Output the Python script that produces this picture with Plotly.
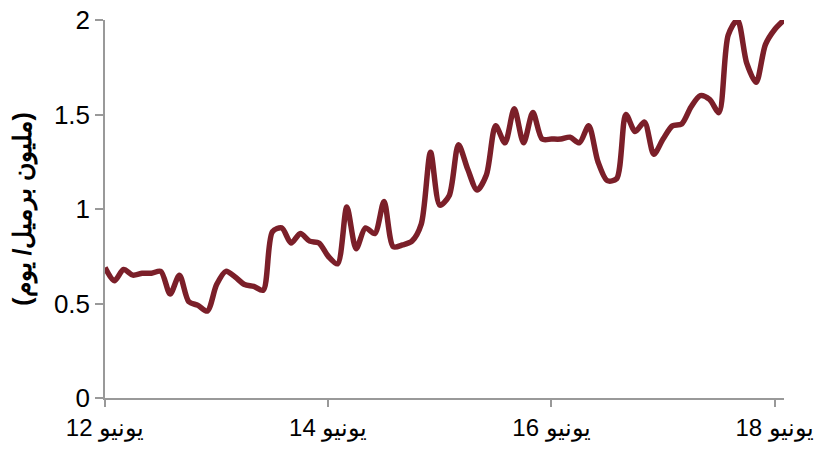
import plotly.graph_objects as go

months = list(range(74))
values = [
    0.69, 0.62, 0.68, 0.65, 0.66, 0.66, 0.67, 0.55, 0.65, 0.51,
    0.49, 0.46, 0.60, 0.67, 0.64, 0.60, 0.59, 0.57, 0.88, 0.90,
    0.82, 0.87, 0.83, 0.82, 0.75, 0.71, 1.01, 0.79, 0.90, 0.87,
    1.04, 0.80, 0.81, 0.83, 0.92, 1.30, 1.02, 1.07, 1.34, 1.21,
    1.10, 1.18, 1.44, 1.35, 1.53, 1.35, 1.51, 1.37, 1.37, 1.37,
    1.38, 1.35, 1.44, 1.25, 1.15, 1.16, 1.50, 1.41, 1.46, 1.29,
    1.37, 1.44, 1.45, 1.54, 1.60, 1.58, 1.51, 1.92, 2.00, 1.77,
    1.67, 1.87, 1.95, 2.00,
]
tick_vals = [0, 24, 48, 72]
tick_text = ["12 يونيو", "14 يونيو", "16 يونيو", "18 يونيو"]
y_title = "(مليون برميل/ يوم)"

fig = go.Figure()
fig.add_trace(go.Scatter(
    x=months, y=values, mode="lines",
    line=dict(color="#7b1f29", width=5.5, shape="spline", smoothing=0.8),
    hoverinfo="skip", showlegend=False,
))

fig.update_layout(
    width=822, height=450,
    margin=dict(l=105, r=38, t=20, b=52),
    paper_bgcolor="white", plot_bgcolor="white",
    font=dict(family="Liberation Sans, Arial, sans-serif", size=24, color="#000000"),
    xaxis=dict(
        range=[0, 73], tickvals=tick_vals, ticktext=tick_text, automargin=False,
        showgrid=False, zeroline=False, showline=True, linecolor="#999999", linewidth=1.5,
        ticks="outside", ticklen=7, tickcolor="#999999", tickwidth=1.5,
        tickfont=dict(size=24),
    ),
    yaxis=dict(
        range=[0, 2], tickvals=[0, 0.5, 1, 1.5, 2], ticktext=["0", "0.5", "1", "1.5", "2"],
        automargin=False,
        showgrid=False, zeroline=False, showline=True, linecolor="#999999", linewidth=1.5,
        ticks="outside", ticklen=8, tickcolor="#999999", tickwidth=1.5,
        tickfont=dict(size=26),
        title=dict(text=y_title, font=dict(size=25, family="Liberation Sans, Arial, sans-serif", weight="bold"), standoff=15),
    ),
)

fig.write_html("out.html", config={"displayModeBar": False},
               post_script="document.body.style.margin='0';")
